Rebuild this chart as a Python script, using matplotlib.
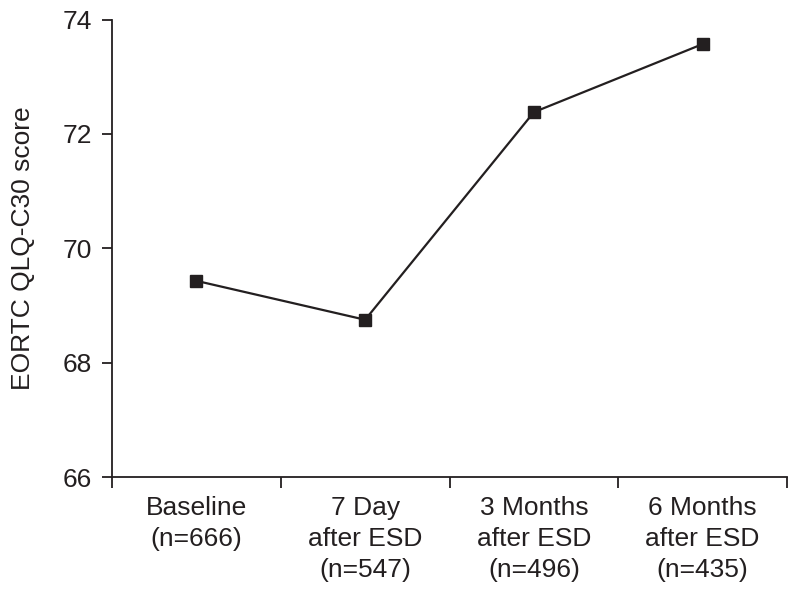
import matplotlib
matplotlib.use("Agg")
import matplotlib.pyplot as plt
import numpy as np

categories = ["Baseline\n(n=666)", "7 Day\nafter ESD\n(n=547)",
              "3 Months\nafter ESD\n(n=496)", "6 Months\nafter ESD\n(n=435)"]
scores = [69.43, 68.75, 72.38, 73.57]
yticks = [66, 68, 70, 72, 74]

plt.rcParams['font.family'] = ['Liberation Sans', 'DejaVu Sans']
col = '#231f20'
fs = 19

fig = plt.figure(figsize=(7.98, 5.95), dpi=100)
ax = fig.add_axes([0.1404, 0.1983, 0.8458, 0.7689])

x = np.arange(len(categories))
ax.plot(x, scores, color=col, lw=1.6, marker='s', markersize=9, markerfacecolor=col,
        markeredgecolor=col, zorder=3)

ax.set_xlim(-0.5, len(categories) - 0.5)
ax.set_ylim(66, 74)
ax.set_yticks(yticks)
ax.set_yticklabels([str(t) for t in yticks])
ax.set_xticks(x)
ax.set_xticklabels(categories, fontsize=fs, linespacing=1.36)
ax.set_xticks(np.arange(-0.5, len(categories)), minor=True)
ax.tick_params(axis='x', which='major', length=0, pad=14, colors=col, labelcolor=col)
ax.tick_params(axis='x', which='minor', length=8, width=1.3, color=col)
ax.tick_params(axis='y', length=7, width=1.3, labelsize=fs, pad=7.5, color=col, labelcolor=col)

for s in ['top', 'right']:
    ax.spines[s].set_visible(False)
for s in ['left', 'bottom']:
    ax.spines[s].set_linewidth(1.3)
    ax.spines[s].set_color(col)

ax.set_ylabel("EORTC QLQ-C30 score", fontsize=fs, color=col, labelpad=20)

fig.savefig("out.png", dpi=100)
